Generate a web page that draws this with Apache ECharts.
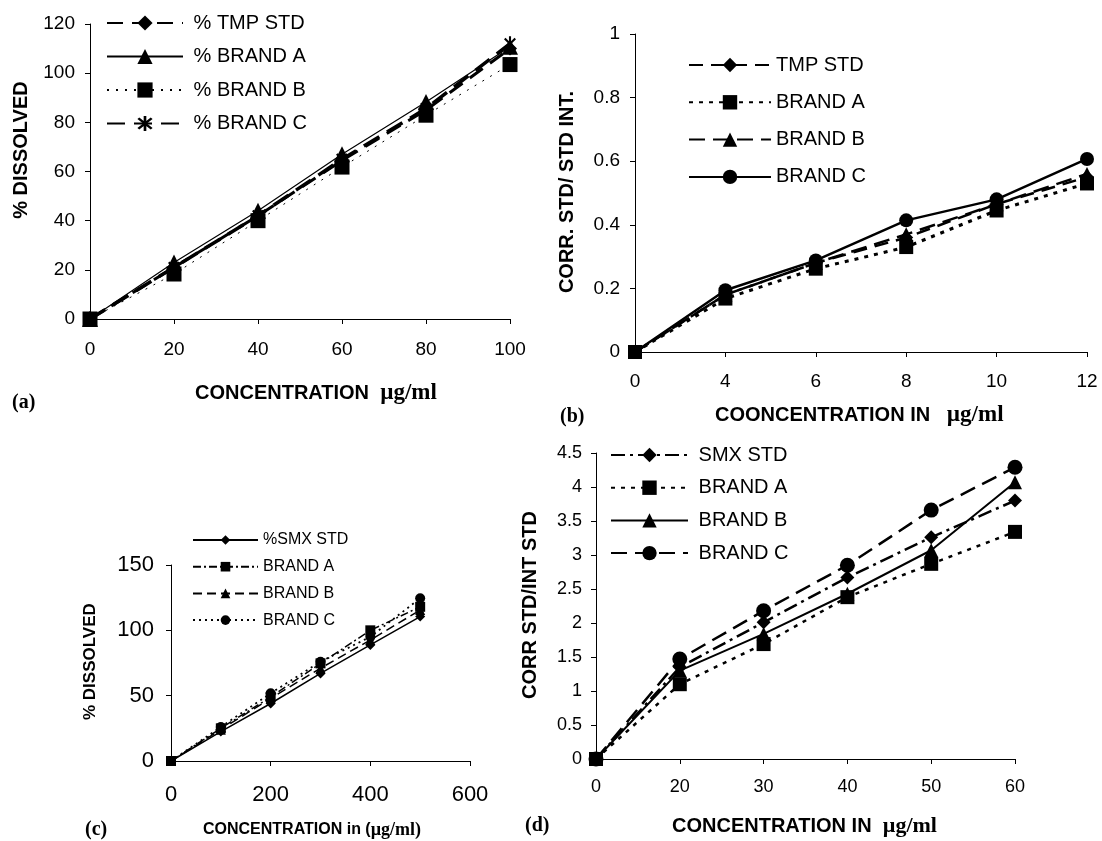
<!DOCTYPE html>
<html>
<head>
<meta charset="utf-8">
<script src="https://cdn.jsdelivr.net/npm/echarts@6/dist/echarts.min.js"></script>
<style>
html,body{margin:0;padding:0;background:#fff;}
#chart{width:1102px;height:841px;}
</style>
</head>
<body>
<div id="chart"></div>
<script>
// ---- Panel (a): TMP % dissolved ----
const a_x = [0, 20, 40, 60, 80, 100];
const a_tmpStd = [0, 21, 42, 64.5, 85, 110];
const a_brandA = [0, 23, 44, 67, 88.3, 110.7];
const a_brandB = [0, 18.3, 40, 61.8, 82.9, 103.5];
const a_brandC = [0, 21, 42, 65, 85.6, 112];

// ---- Panel (b): TMP corr std / std int ----
const b_x = ['0', '4', '6', '8', '10', '12'];
const b_tmpStd = [0, 0.18, 0.28, 0.36, 0.465, 0.55];
const b_brandA = [0, 0.168, 0.262, 0.33, 0.445, 0.53];
const b_brandB = [0, 0.18, 0.28, 0.37, 0.465, 0.56];
const b_brandC = [0, 0.194, 0.288, 0.414, 0.48, 0.607];

// ---- Panel (c): SMX % dissolved ----
const c_x = [0, 100, 200, 300, 400, 500];
const c_smxStd = [0, 22.5, 44, 67, 88.8, 110.5];
const c_brandA = [0, 25, 49, 74.7, 100, 118];
const c_brandB = [0, 24, 48, 71, 92.6, 115.5];
const c_brandC = [0, 26, 51.8, 76, 95, 124.5];

// ---- Panel (d): SMX corr std / int std ----
const d_x = ['0', '20', '30', '40', '50', '60'];
const d_smxStd = [0, 1.35, 2.01, 2.67, 3.26, 3.80];
const d_brandA = [0, 1.10, 1.69, 2.38, 2.87, 3.34];
const d_brandB = [0, 1.30, 1.84, 2.43, 3.07, 4.07];
const d_brandC = [0, 1.47, 2.18, 2.85, 3.66, 4.29];

const SANS = 'Liberation Sans';
const SERIF = 'Liberation Serif';
const ASTERISK = 'path://M4.3,0H5.7V10H4.3Z M1,2L2,1L9,8L8,9Z M8,1L9,2L2,9L1,8Z';

function pairs(xs, ys) { return xs.map((x, i) => [x, ys[i]]); }

function mk(name, idx, data, symbol, size, type, width) {
  return {
    name: name, type: 'line', xAxisIndex: idx, yAxisIndex: idx,
    data: data, symbol: symbol, symbolSize: size, symbolKeepAspect: true,
    showAllSymbol: true,
    lineStyle: { color: '#000', width: width, type: type },
    itemStyle: { color: '#000', borderWidth: 0 },
    emphasis: { disabled: true }
  };
}

const series = [
  mk('a|% TMP STD', 0, pairs(a_x, a_tmpStd), 'diamond', 14, [16, 9], 3),
  mk('a|% BRAND A', 0, pairs(a_x, a_brandA), 'triangle', 16, 'solid', 1.2),
  mk('a|% BRAND B', 0, pairs(a_x, a_brandB), 'rect', 15, [2, 7], 1),
  mk('a|% BRAND C', 0, pairs(a_x, a_brandC), ASTERISK, 15, [18, 9], 3.5),

  mk('b|TMP STD', 1, b_tmpStd, 'diamond', 14, [14, 8], 2.5),
  mk('b|BRAND A', 1, b_brandA, 'rect', 14, [4, 6], 3),
  mk('b|BRAND B', 1, b_brandB, 'triangle', 14, [16, 8], 2.5),
  mk('b|BRAND C', 1, b_brandC, 'circle', 14, 'solid', 2.5),

  mk('c|%SMX STD', 2, pairs(c_x, c_smxStd), 'diamond', 10, 'solid', 1.5),
  mk('c|BRAND A', 2, pairs(c_x, c_brandA), 'rect', 10, [8, 3, 2, 3], 1.5),
  mk('c|BRAND B', 2, pairs(c_x, c_brandB), 'triangle', 10, [9, 5], 1.5),
  mk('c|BRAND C', 2, pairs(c_x, c_brandC), 'circle', 10, [2, 4], 1.8),

  mk('d|SMX STD', 3, d_smxStd, 'diamond', 14, [14, 5, 3, 5], 2.5),
  mk('d|BRAND A', 3, d_brandA, 'rect', 14, [4, 6], 2.5),
  mk('d|BRAND B', 3, d_brandB, 'triangle', 14, 'solid', 2),
  mk('d|BRAND C', 3, d_brandC, 'circle', 15, [16, 8], 2.5)
];

function legend(prefix, left, top, w, h, gap, fontSize, lead) {
  return {
    data: series.filter(s => s.name.startsWith(prefix + '|')).map(s => s.name),
    orient: 'vertical', left: left, top: top,
    itemWidth: w, itemHeight: h, itemGap: gap,
    selectedMode: false, padding: 0,
    formatter: n => lead + n.split('|')[1],
    textStyle: { color: '#000', fontFamily: SANS, fontSize: fontSize, lineHeight: fontSize }
  };
}

function axisCommon(fontSize, margin) {
  return {
    axisLine: { show: true, onZero: false, lineStyle: { color: '#000', width: 1 } },
    axisTick: { show: true, length: 5, lineStyle: { color: '#000' } },
    splitLine: { show: false },
    axisLabel: { color: '#000', fontFamily: SANS, fontSize: fontSize, margin: margin }
  };
}

function txt(x, y, text, font, opts) {
  return Object.assign({
    type: 'text', x: x, y: y,
    style: Object.assign({ text: text, font: font, fill: '#000', align: 'left', verticalAlign: 'middle' }, (opts && opts.style) || {})
  }, opts && opts.rotation ? { rotation: opts.rotation } : {});
}

function richTitle(x, y, main, unit, size, usize) {
  return {
    type: 'text', x: x, y: y,
    style: {
      text: '{m|' + main + '}{u|' + unit + '}',
      align: 'left', verticalAlign: 'middle',
      rich: {
        m: { font: 'bold ' + size + 'px ' + SANS, fill: '#000' },
        u: { font: 'bold ' + usize + 'px ' + SERIF, fill: '#000' }
      }
    }
  };
}

const option = {
  backgroundColor: '#fff',
  animation: false,
  grid: [
    { left: 90, top: 24, width: 420, height: 295 },
    { left: 635, top: 34, width: 452, height: 318 },
    { left: 171, top: 565, width: 299, height: 196 },
    { left: 596, top: 453, width: 419, height: 306 }
  ],
  xAxis: [
    Object.assign(axisCommon(19, 21), { type: 'value', gridIndex: 0, min: 0, max: 100, interval: 20 }),
    Object.assign(axisCommon(19, 20), { type: 'category', gridIndex: 1, data: b_x, boundaryGap: false }),
    Object.assign(axisCommon(22, 23), { type: 'value', gridIndex: 2, min: 0, max: 600, interval: 200 }),
    Object.assign(axisCommon(18, 19), { type: 'category', gridIndex: 3, data: d_x, boundaryGap: false })
  ],
  yAxis: [
    Object.assign(axisCommon(19, 15), { type: 'value', gridIndex: 0, min: 0, max: 120, interval: 20 }),
    Object.assign(axisCommon(19, 15), { type: 'value', gridIndex: 1, min: 0, max: 1, interval: 0.2 }),
    Object.assign(axisCommon(22, 17), { type: 'value', gridIndex: 2, min: 0, max: 150, interval: 50 }),
    Object.assign(axisCommon(18, 14), { type: 'value', gridIndex: 3, min: 0, max: 4.5, interval: 0.5 })
  ],
  legend: [
    legend('a', 106, 13, 76, 19, 13.5, 20, ' '),
    legend('b', 688, 55, 82, 18, 17.3, 20, ''),
    legend('c', 192, 532, 65, 12, 10.7, 16, ''),
    legend('d', 610, 445, 77, 18, 12.7, 20, ' ')
  ],
  series: series,
  graphic: [
    // panel (a)
    txt(21, 150, '% DISSOLVED', 'bold 20px ' + SANS, { rotation: Math.PI / 2, style: { align: 'center' } }),
    richTitle(195, 393, 'CONCENTRATION  ', 'µg/ml', 20, 23),
    txt(12, 403, '(a)', 'bold 20px ' + SERIF),
    // panel (b)
    txt(567, 192, 'CORR. STD/ STD INT.', 'bold 20px ' + SANS, { rotation: Math.PI / 2, style: { align: 'center' } }),
    richTitle(715, 415, 'COONCENTRATION IN   ', 'µg/ml', 20, 23),
    txt(560, 417, '(b)', 'bold 20px ' + SERIF),
    // panel (c)
    txt(90, 720, '% DISSOLVED', 'bold 17px ' + SANS, { rotation: Math.PI / 2, style: { align: 'left' } }),
    richTitle(203, 830, 'CONCENTRATION in (', 'µg/ml)', 16, 18),
    txt(85, 830, '(c)', 'bold 20px ' + SERIF),
    // panel (d)
    txt(530, 605, 'CORR STD/INT STD', 'bold 20px ' + SANS, { rotation: Math.PI / 2, style: { align: 'center' } }),
    richTitle(672, 826, 'CONCENTRATION IN  ', 'µg/ml', 20, 22),
    txt(525, 826, '(d)', 'bold 20px ' + SERIF)
  ]
};

const chart = echarts.init(document.getElementById('chart'), null, { renderer: 'canvas' });
chart.setOption(option);
</script>
</body>
</html>
